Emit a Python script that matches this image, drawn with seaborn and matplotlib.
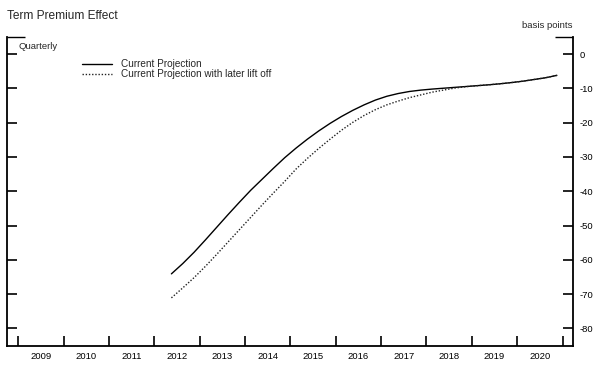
import numpy as np
import pandas as pd
import matplotlib
matplotlib.use("Agg")
import matplotlib.pyplot as plt
import seaborn as sns

# quarterly projection, 2012Q2 - 2020Q4 (basis points)
quarters = pd.period_range("2012Q2", "2020Q4", freq="Q")

current = [-64.1, -61.1, -57.8,
           -54.2, -50.5, -46.8, -43.2,
           -39.7, -36.5, -33.3, -30.2,
           -27.4, -24.8, -22.4, -20.2,
           -18.2, -16.4, -14.8, -13.4,
           -12.3, -11.5, -10.9, -10.5,
           -10.2, -9.95, -9.7, -9.45,
           -9.2, -8.95, -8.65, -8.3,
           -7.9, -7.4, -6.9, -6.2]

later_liftoff = [-71.1, -68.2, -65.2,
                 -61.9, -58.4, -54.8, -51.2,
                 -47.6, -44.0, -40.5, -37.1,
                 -33.5, -30.4, -27.5, -24.8,
                 -22.2, -19.9, -17.9, -16.2,
                 -14.8, -13.7, -12.7, -11.9,
                 -11.1, -10.5, -9.9, -9.5,
                 -9.2, -8.95, -8.65, -8.3,
                 -7.9, -7.4, -6.9, -6.2]

years = list(range(2009, 2021))
ytick_vals = [0, -10, -20, -30, -40, -50, -60, -70, -80]

# position each quarter at its middle on a decimal-year axis
xpos = np.array([q.year + (q.quarter - 0.5) / 4 for q in quarters])
df = pd.DataFrame({
    "x": np.concatenate([xpos, xpos]),
    "value": current + later_liftoff,
    "series": ["Current Projection"] * len(xpos)
              + ["Current Projection with later lift off"] * len(xpos),
})

sns.set_theme(style="ticks")
plt.rcParams["font.family"] = ["Liberation Sans", "DejaVu Sans"]

fig = plt.figure(figsize=(6, 3.66), dpi=100)
ax = fig.add_axes([0.0117, 0.056, 0.9425, 0.843])

sns.lineplot(data=df, x="x", y="value", hue="series",
             palette=["black", "#222222"], linewidth=1.0, legend=False, ax=ax)
ax.lines[0].set_linestyle("-")
ax.lines[1].set_linestyle((0, (1, 1.3)))

ax.set_xlim(2008.75, 2021.22)
ax.set_ylim(-85, 5)

# x: ticks at year boundaries, labels centered in each year
ax.set_xticks(list(range(2009, 2022)))
ax.set_xticklabels([])
ax.set_xticks([y + 0.5 for y in years], minor=True)
ax.set_xticklabels([str(y) for y in years], minor=True, fontsize=6.8)
ax.tick_params(axis="x", which="major", direction="in", length=7, width=1.2,
               top=False, color="black")
ax.tick_params(axis="x", which="minor", length=0, pad=5, colors="black")

# y: labels on the right, inward ticks on both sides
ax.set_yticks(ytick_vals)
ax.set_yticklabels([str(v) for v in ytick_vals], fontsize=6.8)
ax.set_yticks([5], minor=True)
ax.tick_params(axis="y", which="major", direction="in", length=7, width=1.2,
               left=True, right=True, labelleft=False, labelright=True,
               pad=5, color="black", labelcolor="black")
ax.tick_params(axis="y", which="minor", direction="in", length=13, width=1.0,
               left=True, right=True, labelleft=False, labelright=False,
               color="black")

for side in ["left", "right", "bottom"]:
    ax.spines[side].set_visible(True)
    ax.spines[side].set_linewidth(1.3)
    ax.spines[side].set_color("black")
ax.spines["top"].set_visible(False)
ax.set_xlabel("")
ax.set_ylabel("")
ax.grid(False)

# legend drawn from the plotted lines
handles = ax.lines[:2]
ax.legend(handles, ["Current Projection", "Current Projection with later lift off"],
          loc="upper left", bbox_to_anchor=(0.133, 0.928), frameon=False,
          fontsize=7.2, handlelength=3.0, handletextpad=0.9,
          labelspacing=0.0, borderaxespad=0, borderpad=0)

fig.text(0.012, 0.955, "Term Premium Effect", fontsize=8.6, ha="left", va="center")
fig.text(0.955, 0.93, "basis points", fontsize=6.8, ha="right", va="center")
ax.text(0.02, 0.985, "Quarterly", transform=ax.transAxes, fontsize=6.8,
        ha="left", va="top")

fig.savefig("out.png", dpi=100)
